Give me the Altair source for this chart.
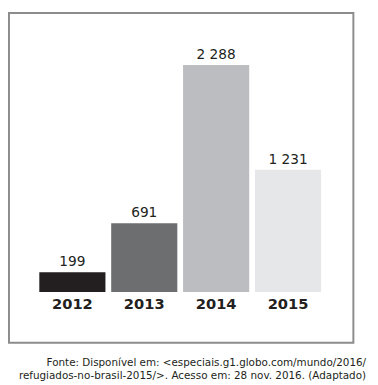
import altair as alt
import pandas as pd

years = ["2012", "2013", "2014", "2015"]
values = [199, 691, 2288, 1231]
value_labels = ["199", "691", "2 288", "1 231"]
bar_colors = ["#231f20", "#6d6e70", "#bcbdc0", "#e6e7e8"]
source_lines = [
    "Fonte: Disponível em: <especiais.g1.globo.com/mundo/2016/",
    "refugiados-no-brasil-2015/>. Acesso em: 28 nov. 2016. (Adaptado)",
]

W, H = 370, 377
df = pd.DataFrame({"year": years, "value": values, "label": value_labels})
src = pd.DataFrame({"line": source_lines, "i": [0, 1]})

xscale = alt.Scale(domain=years, range=[32, 320], paddingInner=0.08, paddingOuter=0)
yscale = alt.Scale(domain=[0, 2288], range=[286, 54])

box = alt.Chart(pd.DataFrame({"a": [0]})).mark_rect(
    fill=None, stroke="#8c8c8c", strokeWidth=2
).encode(
    x=alt.value(1), x2=alt.value(353), y=alt.value(1), y2=alt.value(338)
)

bars = alt.Chart(df).mark_bar().encode(
    x=alt.X("year:N", scale=xscale, axis=None),
    y=alt.Y("value:Q", scale=yscale, axis=None),
    y2=alt.datum(0),
    color=alt.Color("year:N", scale=alt.Scale(domain=years, range=bar_colors), legend=None),
)

vals = alt.Chart(df).mark_text(
    baseline="alphabetic", dy=-6, fontSize=14, font="DejaVu Sans", color="#231f20"
).encode(
    x=alt.X("year:N", scale=xscale, axis=None),
    y=alt.Y("value:Q", scale=yscale, axis=None),
    text="label:N",
)

yrs = alt.Chart(df).mark_text(
    baseline="alphabetic", fontSize=15, fontWeight="bold", font="DejaVu Sans", color="#231f20"
).encode(
    x=alt.X("year:N", scale=xscale, axis=None),
    y=alt.value(303),
    text="year:N",
)

source = alt.Chart(src).mark_text(
    align="right", baseline="alphabetic", fontSize=10.6, font="DejaVu Sans", color="#231f20"
).encode(
    x=alt.value(366),
    y=alt.Y("i:Q", scale=alt.Scale(domain=[0, 1], range=[362, 375]), axis=None),
    text="line:N",
)

chart = alt.layer(box, bars, vals, yrs, source).properties(
    width=W, height=H, padding=0, autosize=alt.AutoSizeParams(type="none")
).configure_view(strokeWidth=0).resolve_scale(color="independent", y="independent")

chart.save("out.html", embed_options={"renderer": "svg", "actions": False})
